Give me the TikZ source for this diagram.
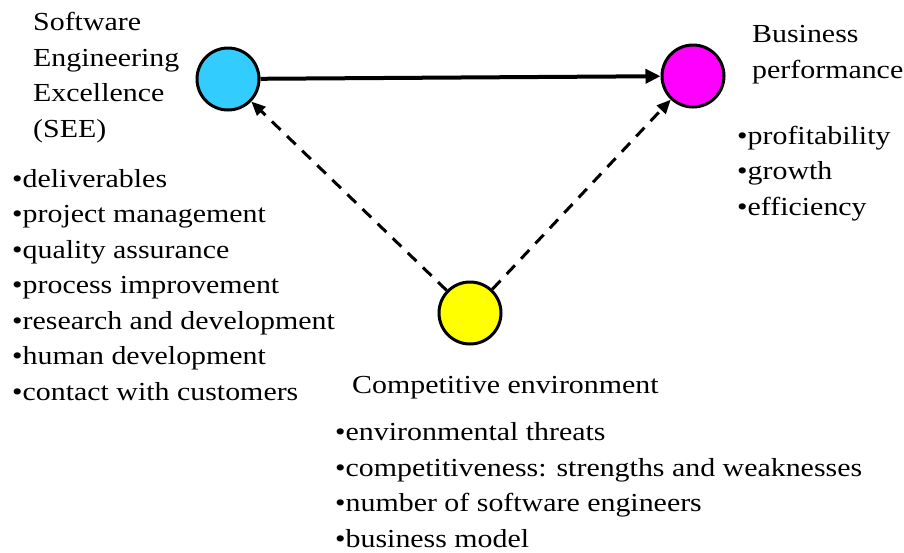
\documentclass[tikz,border=0pt]{standalone}
\usepackage{fontspec}
\setmainfont{Liberation Serif}[FakeStretch=1.15]
\usepackage{tikz}
\usetikzlibrary{positioning}
\usetikzlibrary{arrows.meta}
\definecolor{seeblue}{HTML}{33CCFF}
\definecolor{bizpink}{HTML}{FF00FF}
\definecolor{envyellow}{HTML}{FFFF00}
\tikzset{
	factor/.style={circle, draw=black, line width=3pt, minimum size=62pt, inner sep=0pt},
	listtext/.style={anchor=base west, align=left, inner sep=0pt, font=\fontsize{26}{35.5}\selectfont},
	link/.style={line width=4pt, -{Triangle[length=15pt,width=14pt]}},
	dashlink/.style={line width=3pt, dash pattern=on 12pt off 9pt, -{Triangle[length=14pt,width=12pt]}},
}

\begin{document}
\begin{tikzpicture}[x=1pt, y=-1pt]
	\useasboundingbox (0,0) rectangle (904,552);
	\node[factor, fill=seeblue] (see) at (228,79) {};
	\node[factor, fill=bizpink] (biz) at (693,76) {};
	\node[factor, fill=envyellow] (env) at (470,313) {};
	
	\draw[link] (see) -- (biz);
	\draw[dashlink] (env) -- (see);
	\draw[dashlink] (env) -- (biz);
	
	% anchors sit on the baseline of the last line
	\node[listtext] (seetitle) at (33,137) {Software\\Engineering\\Excellence\\(SEE)};
	\node[listtext] (seelist) at (12,400) {\textbullet deliverables\\\textbullet project management\\\textbullet quality assurance\\\textbullet process improvement\\\textbullet research and development\\\textbullet human development\\\textbullet contact with customers};
	\node[listtext] (biztitle) at (752,78) {Business\\performance};
	\node[listtext] (bizlist) at (737,215) {\textbullet profitability\\\textbullet growth\\\textbullet efficiency};
	\node[listtext] (envtitle) at (352,393) {Competitive environment};
	\node[listtext] (envlist) at (335,547) {\textbullet environmental threats\\\textbullet competitiveness: strengths and weaknesses\\\textbullet number of software engineers\\\textbullet business model};
\end{tikzpicture}
\end{document}
